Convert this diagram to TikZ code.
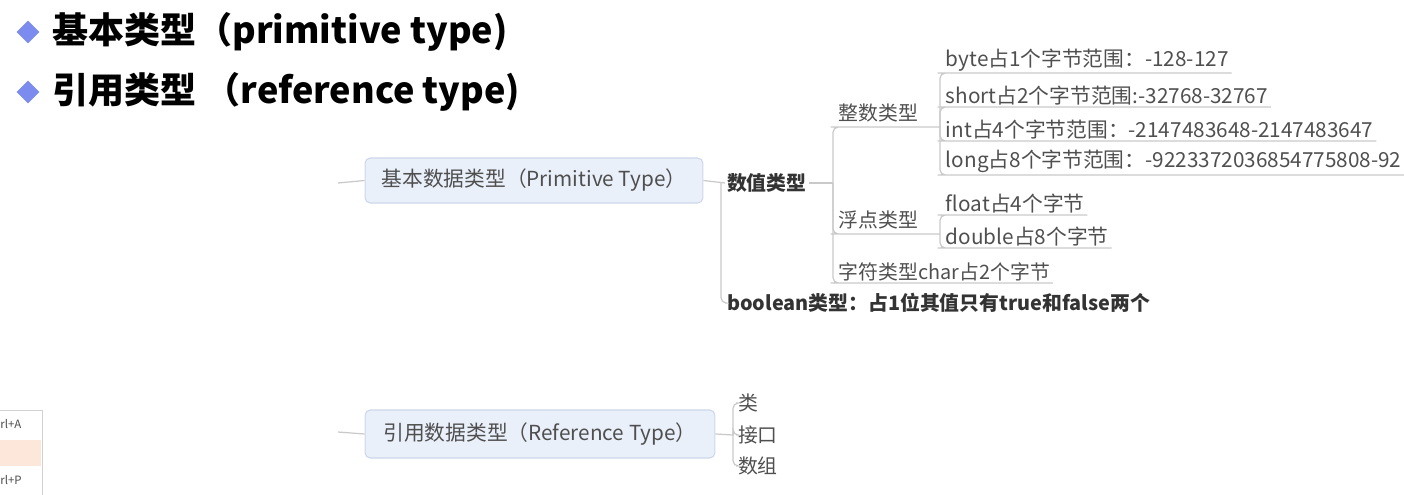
\documentclass[tikz,border=0pt]{standalone}
\usepackage{fontspec}
\setmainfont{Noto Sans CJK SC}
\usetikzlibrary{shapes.geometric,positioning}
\definecolor{bulletblue}{HTML}{7B8CEE}
\definecolor{boxfill}{HTML}{EAF0FA}
\definecolor{boxline}{HTML}{CCD7EA}
\definecolor{branchgray}{HTML}{C9C9C9}
\definecolor{leaftext}{HTML}{4F4F4F}
\definecolor{menuhi}{HTML}{FDE6DA}

\begin{document}
\begin{tikzpicture}[x=0.02cm,y=-0.02cm,
  bullet/.style={diamond,fill=bulletblue,inner sep=0pt,minimum size=0.46cm},
  title/.style={anchor=west,inner sep=0pt,font=\fontsize{20.5}{24}\selectfont\bfseries},
  topic/.style={draw=boxline,fill=boxfill,rounded corners=3pt,line width=0.6pt,
    text=leaftext,font=\fontsize{11.8}{14}\selectfont},
  sub/.style={anchor=west,inner sep=1pt,text=black!80,font=\fontsize{11.3}{13}\selectfont\bfseries},
  leaf/.style={anchor=south west,inner xsep=1.5pt,inner ysep=1pt,text=leaftext,
    font=\fontsize{11.8}{14}\selectfont},
  item/.style={anchor=west,inner sep=1pt,text=leaftext,font=\fontsize{11.3}{13}\selectfont},
  branch/.style={draw=branchgray,line width=0.7pt,rounded corners=3pt}]

  \useasboundingbox (0,0) rectangle (1404,494);
  \clip (0,0) rectangle (1404,494);

  % headings
  \node[bullet] (b1) at (28,32) {};
  \node[title] (t1) at (52,32) {基本类型（primitive type)};
  \node[bullet] (b2) at (28,92) {};
  \node[title] (t2) at (52,92) {引用类型 （reference type)};

  % primitive types
  \node[topic,minimum width=6.76cm,minimum height=0.9cm] (prim) at (534,180.5) {基本数据类型（Primitive Type）};
  \node[sub] (num) at (725,183) {数值类型};
  \node[sub] (bool) at (725,303) {boolean类型：占1位其值只有true和false两个};

  \node[leaf,inner ysep=2.5pt,font=\fontsize{11.3}{13}\selectfont] (int) at (836,127) {整数类型};
  \node[leaf,inner ysep=2.5pt,font=\fontsize{11.3}{13}\selectfont] (flt) at (836,234) {浮点类型};
  \node[leaf,font=\fontsize{11.3}{13}\selectfont] (chr) at (836,283) {字符类型char占2个字节};

  \node[leaf] (byte) at (943,73) {byte占1个字节范围：-128-127};
  \node[leaf] (short) at (943,107) {short占2个字节范围:-32768-32767};
  \node[leaf] (i32) at (943,141) {int占4个字节范围：-2147483648-2147483647};
  \node[leaf] (long) at (943,175) {long占8个字节范围：-9223372036854775808-92};
  \node[leaf] (float) at (943,215) {float占4个字节};
  \node[leaf] (double) at (943,248) {double占8个字节};

  \coordinate (in1) at (338,183);
  \coordinate (s1) at (721,183);
  \coordinate (s2) at (833,183);
  \coordinate (s3a) at (940,127);
  \coordinate (s3b) at (940,234);

  \draw[branch] (in1) -- (prim.west);
  \draw[branch] (prim.east) -- (num.west);
  \draw[branch] (s1) |- (bool.west);
  \draw[branch] (num.east) -- (s2);
  \draw[branch] (s2) |- (int.south west) -- (s3a);
  \draw[branch] (s2) |- (flt.south west) -- (s3b);
  \draw[branch] (s2) |- (chr.south west) -- (chr.south east);
  \foreach \n in {byte,short,i32,long}
    \draw[branch] (s3a) |- (\n.south west) -- (\n.south east);
  \foreach \n in {float,double}
    \draw[branch] (s3b) |- (\n.south west) -- (\n.south east);

  % reference types
  \node[topic,minimum width=7cm,minimum height=0.96cm] (ref) at (540,434) {引用数据类型（Reference Type）};
  \node[item] (cls) at (736,403) {类};
  \node[item] (ifc) at (736,435) {接口};
  \node[item] (arr) at (736,466) {数组};

  \coordinate (in2) at (338,432);
  \coordinate (s4) at (733,435);
  \draw[branch] (in2) -- (ref.west);
  \draw[branch] (ref.east) -- (s4);
  \foreach \n in {cls,ifc,arr}
    \draw[branch] (s4) |- (\n.west);

  % menu fragment
  \draw[draw=black!18,fill=white] (-5,410) rectangle (42,500);
  \fill[menuhi] (0,440) rectangle (41,466);
  \node[anchor=west,inner sep=0pt,text=black!70,font=\fontsize{6.5}{8}\selectfont] (mA) at (0,424) {rl+A};
  \node[anchor=west,inner sep=0pt,text=black!70,font=\fontsize{6.5}{8}\selectfont] (mP) at (0,480) {rl+P};

\end{tikzpicture}
\end{document}
